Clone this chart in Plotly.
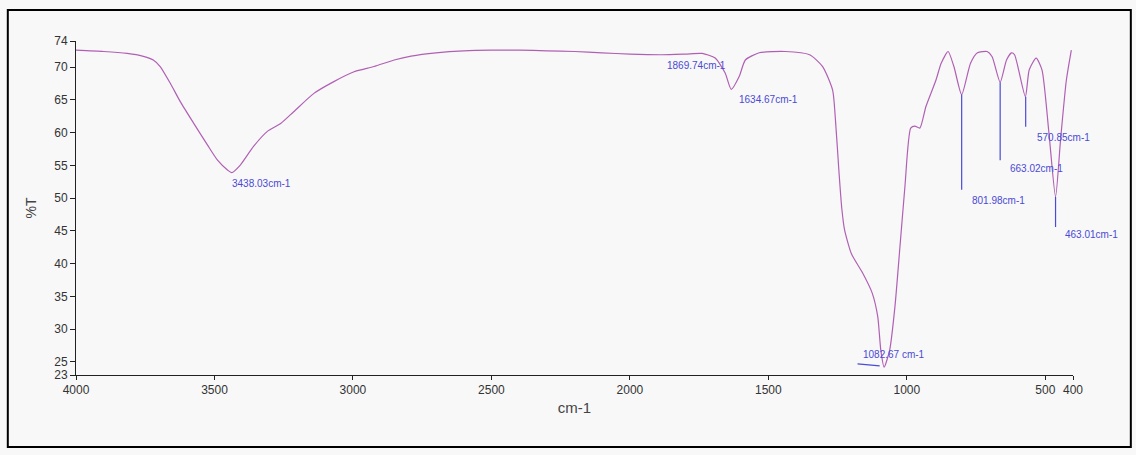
import plotly.graph_objects as go

# Spectrum (wavenumber cm-1, %T)
wavenumber = [4000, 3900, 3815, 3760, 3721, 3696, 3659, 3623, 3576, 3525, 3489, 3453, 3438,
              3406, 3359, 3309, 3261, 3214, 3141, 3069, 2996, 2924, 2851, 2790, 2700, 2600,
              2500, 2400, 2300, 2200, 2101, 2000, 1884, 1800, 1739, 1692, 1656, 1634, 1605,
              1583, 1533, 1439, 1351, 1304, 1268, 1257, 1245, 1235, 1225, 1200, 1160, 1125,
              1105, 1094, 1082, 1062, 1043, 1025, 1007, 986, 971, 953, 931, 895, 876, 851,
              830, 802, 770, 745, 710, 692, 663, 640, 622, 611, 572, 558, 533, 512, 487,
              463, 445, 424, 406]
transmittance = [72.6, 72.4, 72.1, 71.7, 71.1, 70.1, 67.5, 64.7, 61.5, 58.1, 55.8, 54.3, 53.9,
                 55.1, 57.9, 60.2, 61.4, 63.2, 66.0, 67.8, 69.3, 70.1, 71.1, 71.7, 72.2, 72.5,
                 72.6, 72.6, 72.5, 72.4, 72.2, 72.0, 71.9, 72.0, 72.1, 71.4, 69.1, 66.6, 68.6,
                 71.1, 72.2, 72.4, 71.9, 70.1, 66.5, 61.5, 54.0, 48.5, 45.2, 41.5, 38.6, 35.5,
                 31.9, 26.8, 24.2, 26.8, 33.4, 42.5, 51.7, 60.7, 61.0, 60.7, 64.0, 68.0, 70.6, 72.4,
                 70.1, 65.8, 70.6, 72.2, 72.4, 71.6, 67.7, 71.1, 72.2, 71.9, 65.5, 69.6, 71.4, 69.6, 60.0,
                 50.2, 58.9, 68.0, 72.6]

# Peak labels
peak_text = ["3438.03cm-1", "1869.74cm-1", "1634.67cm-1", "1082.67 cm-1",
             "801.98cm-1", "663.02cm-1", "570.85cm-1", "463.01cm-1"]
peak_label_x = [3445, 1873, 1612, 1047, 772, 634, 536, 435]
peak_label_y = [52.3, 70.3, 65.0, 26.1, 49.7, 54.6, 59.3, 44.4]
peak_label_anchor = ["left", "left", "left", "center", "left", "left", "left", "left"]

# Peak marker lines (vertical drops)
drop_x = [801.98, 663.02, 570.85, 463.01]
drop_top = [65.8, 67.7, 65.5, 50.2]
drop_bottom = [51.3, 55.8, 60.9, 45.6]

x_ticks = [4000, 3500, 3000, 2500, 2000, 1500, 1000, 500, 400]
y_ticks = [23, 25, 30, 35, 40, 45, 50, 55, 60, 65, 70, 74]

BLUE = "#4a4ad6"
CURVE = "#b060b4"
FONT = "Liberation Sans Narrow, Liberation Sans, Arial"

fig = go.Figure()
fig.add_trace(go.Scatter(x=wavenumber, y=transmittance, mode="lines",
                         line=dict(color=CURVE, width=1.2, shape="spline", smoothing=0.6),
                         hoverinfo="x+y", showlegend=False))

for xv, t, b in zip(drop_x, drop_top, drop_bottom):
    fig.add_trace(go.Scatter(x=[xv, xv], y=[t, b], mode="lines",
                             line=dict(color=BLUE, width=1.2), showlegend=False, hoverinfo="skip"))

# short underline marker at the 1082.67 minimum
fig.add_trace(go.Scatter(x=[1178, 1098], y=[24.7, 24.4], mode="lines",
                         line=dict(color=BLUE, width=1.2), showlegend=False, hoverinfo="skip"))

for txt, xv, yv, anc in zip(peak_text, peak_label_x, peak_label_y, peak_label_anchor):
    fig.add_annotation(x=xv, y=yv, text=txt, showarrow=False, xanchor=anc, yanchor="middle",
                       font=dict(family=FONT, size=10, color=BLUE))

# outer border of the image
fig.add_shape(type="rect", xref="paper", yref="paper",
              x0=-0.0684, x1=1.058, y0=-0.2156, y1=1.0928,
              line=dict(color="black", width=2), fillcolor="rgba(0,0,0,0)", layer="below")

fig.update_layout(
    width=1136, height=455,
    margin=dict(l=76, r=63, t=41, b=80),
    paper_bgcolor="#f8f8f8", plot_bgcolor="#f8f8f8",
    font=dict(family=FONT, size=12, color="#333333"),
    xaxis=dict(range=[4000, 400], tickvals=x_ticks, ticktext=[str(v) for v in x_ticks],
               showgrid=False, zeroline=False, showline=True, linecolor="#222", linewidth=1,
               ticks="outside", ticklen=4, tickcolor="#222",
               title=dict(text="cm-1", font=dict(size=15, family=FONT, color="#444"), standoff=6),
               tickfont=dict(size=12, family=FONT, color="#333")),
    yaxis=dict(range=[23, 74], tickvals=y_ticks, ticktext=[str(v) for v in y_ticks],
               showgrid=False, zeroline=False, showline=True, linecolor="#222", linewidth=1,
               ticks="outside", ticklen=5, tickcolor="#222",
               title=dict(text="%T", font=dict(size=14, family=FONT, color="#444"), standoff=14),
               tickfont=dict(size=12, family=FONT, color="#333")),
)

fig.write_html("out.html", config={"displayModeBar": False},
               post_script="document.body.style.margin='0';document.body.style.background='#f8f8f8';")
